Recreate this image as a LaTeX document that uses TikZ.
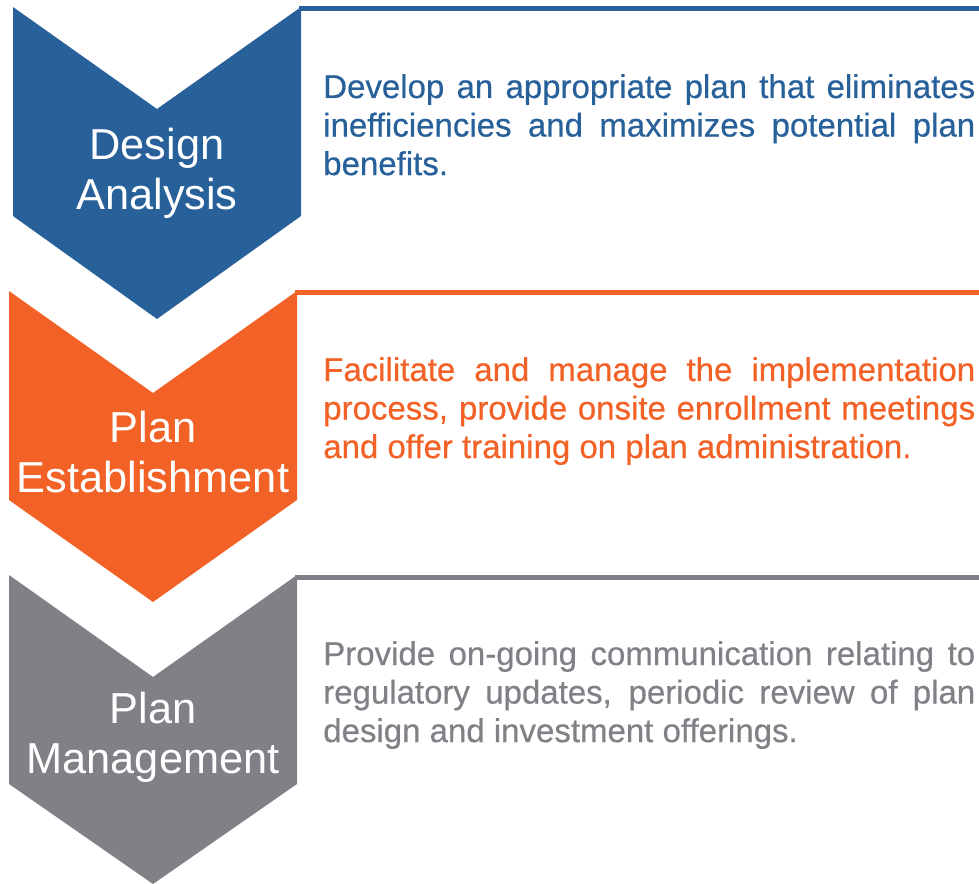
\documentclass[tikz,border=0pt]{standalone}
\usepackage{fontspec}
\setmainfont{Liberation Sans}
\newfontfamily\notefont{Liberation Sans}[FakeBold=0.5]
\definecolor{planblue}{HTML}{28609A}
\definecolor{planorange}{HTML}{F26125}
\definecolor{plangray}{HTML}{808186}
\tikzset{
  chev/.style={fill=#1, draw=none},
  toprule/.style={draw=#1, line width=3.75pt},
  steplabel/.style={text=white, align=center, anchor=base, inner sep=0pt,
    font=\fontsize{32.5}{37.5}\selectfont},
  stepnote/.style={text=#1, text width=489pt, align=justify, anchor=base west,
    inner sep=0pt, font=\notefont\fontsize{24.75}{28.9}\selectfont},
}
\begin{document}
\begin{tikzpicture}[x=0.75pt,y=-0.75pt]
    \useasboundingbox (0,0) rectangle (979,884);
    % design analysis
    \fill[chev=planblue] (13,7)--(157,109)--(301,7)--(301,216)--(157,319)--(13,216)--cycle;
    \draw[toprule=planblue] (299,9)--(979,9);
    \node[steplabel] (design) at (157,210) {Design\\Analysis};
    \node[stepnote=planblue] (designtxt) at (323,98)
      {Develop an appropriate plan that eliminates\linebreak
       inefficiencies and maximizes potential plan\linebreak
       benefits.};
    % plan establishment
    \fill[chev=planorange] (9,291)--(153,393)--(297,291)--(297,500)--(153,602)--(9,500)--cycle;
    \draw[toprule=planorange] (295,293)--(979,293);
    \node[steplabel] (establish) at (153,493) {Plan\\Establishment};
    \node[stepnote=planorange] (establishtxt) at (323,381)
      {Facilitate and manage the implementation\linebreak
       process, provide onsite enrollment meetings\linebreak
       and offer training on plan administration.};
    % plan management
    \fill[chev=plangray] (9,575)--(153,677)--(297,575)--(297,784)--(153,884)--(9,784)--cycle;
    \draw[toprule=plangray] (295,577)--(979,577);
    \node[steplabel] (manage) at (153,773) {Plan\\Management};
    \node[stepnote=plangray] (managetxt) at (323,665)
      {Provide on-going communication relating to\linebreak
       regulatory updates, periodic review of plan\linebreak
       design and investment offerings.};
\end{tikzpicture}
\end{document}
